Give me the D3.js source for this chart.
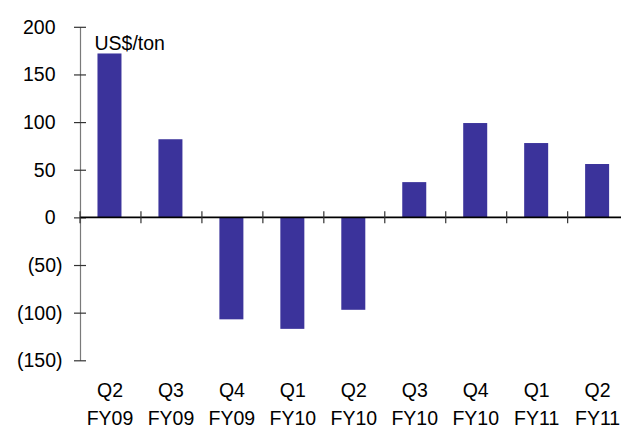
<!DOCTYPE html>
<html>
<head>
<meta charset="utf-8">
<script src="https://cdn.jsdelivr.net/npm/d3@7"></script>
<style>
  html, body { margin: 0; padding: 0; background: #fff; }
  svg { display: block; }
  text { font-family: "Liberation Sans", Arial, sans-serif; fill: #000; }
</style>
</head>
<body>
<svg id="chart" width="621" height="428"></svg>
<script>
// Quarterly margin, US$/ton
const quarters = ["Q2", "Q3", "Q4", "Q1", "Q2", "Q3", "Q4", "Q1", "Q2"];
const fiscalYears = ["FY09", "FY09", "FY09", "FY10", "FY10", "FY10", "FY10", "FY11", "FY11"];
const values = [172, 82, -107, -117, -97, 37, 99, 78, 56];
const yTicks = [-150, -100, -50, 0, 50, 100, 150, 200];
const unitLabel = "US$/ton";

const svg = d3.select("#chart");
const ids = values.map((_, i) => i);

const x = d3.scaleBand().domain(ids).range([80, 628.6]).paddingInner(0).paddingOuter(0);
const y = d3.scaleLinear().domain([-150, 200]).range([360.3, 26.8]);

const barColor = "#3b339b";
const barW = 24;

// Bars
svg.append("g").selectAll("rect").data(ids).join("rect")
  .attr("x", i => x(i) + x.bandwidth() / 2 - barW / 2 - 1)
  .attr("width", barW)
  .attr("y", i => y(Math.max(0, values[i])))
  .attr("height", i => Math.abs(y(values[i]) - y(0)))
  .attr("fill", barColor);

// Y axis: vertical line with crossing ticks
const yAxis = d3.axisLeft(y).tickValues(yTicks).tickSize(0).tickFormat("");
const gy = svg.append("g").attr("transform", "translate(80,0)").call(yAxis);
gy.select(".domain").attr("stroke", "#7a7a7a").attr("stroke-width", 1.2);
gy.selectAll(".tick line").remove();
gy.selectAll(".tick").append("line")
  .attr("x1", -6).attr("x2", 6)
  .attr("stroke", "#333").attr("stroke-width", 1.2);

// Y tick labels in accounting style: negatives in parentheses
svg.append("g").selectAll("text").data(yTicks).join("text")
  .attr("x", d => d < 0 ? 62.5 : 55.5)
  .attr("y", d => y(d))
  .attr("dy", "0.36em")
  .attr("text-anchor", "end")
  .style("font-size", "19.5px")
  .text(d => d < 0 ? "(" + Math.abs(d) + ")" : d);

// X axis at zero with ticks at category boundaries
const boundaries = ids.map(i => x(i)).concat([x.range()[1]]);
const xAxisG = svg.append("g");
xAxisG.append("line")
  .attr("x1", 80).attr("x2", 621)
  .attr("y1", y(0)).attr("y2", y(0))
  .attr("stroke", "#000").attr("stroke-width", 1.6);
xAxisG.selectAll("line.tk").data(boundaries).join("line")
  .attr("class", "tk")
  .attr("x1", d => d).attr("x2", d => d)
  .attr("y1", y(0) - 6).attr("y2", y(0) + 6)
  .attr("stroke", "#333").attr("stroke-width", 1.2);

// Category labels, two rows
const lab = svg.append("g").style("font-size", "19.5px").attr("text-anchor", "middle");
lab.selectAll("text.q").data(ids).join("text")
  .attr("class", "q")
  .attr("x", i => x(i) + x.bandwidth() / 2 - 0.5)
  .attr("y", 396.5)
  .text(i => quarters[i]);
lab.selectAll("text.fy").data(ids).join("text")
  .attr("class", "fy")
  .attr("x", i => x(i) + x.bandwidth() / 2 - 0.5)
  .attr("y", 425)
  .text(i => fiscalYears[i]);

// Unit label
svg.append("text")
  .attr("x", 94.5).attr("y", 49.5)
  .style("font-size", "19.5px")
  .text(unitLabel);
</script>
</body>
</html>
